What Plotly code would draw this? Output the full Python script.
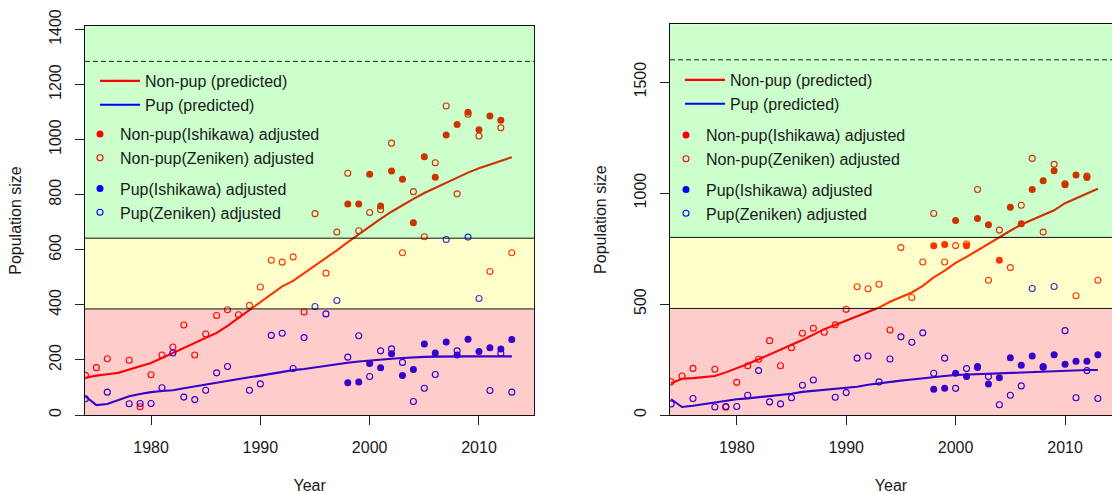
import plotly.graph_objects as go

# ---------------- data ----------------
years = list(range(1974, 2014))

# predicted trajectories (left panel)
L_nonpup_pred = [135, 143, 148, 153, 165, 176, 189, 207, 225, 243, 262, 280, 298, 324, 352, 382,
                 409, 438, 467, 487, 515, 543, 568, 598, 628, 657, 684, 712, 738, 762, 785, 806,
                 825, 845, 863, 880, 896, 910, 924, 936]
L_pup_pred = [68, 36, 40, 55, 68, 76, 83, 87, 90, 97, 104, 110, 117, 124, 131, 137, 143, 150, 158,
              163, 167, 173, 180, 186, 190, 194, 198, 201, 204, 207, 210, 211, 212, 213, 213, 213,
              213, 213, 213, 213]

# predicted trajectories (right panel)
R_nonpup_pred = [143, 163, 166, 170, 176, 192, 210, 230, 251, 272, 293, 315, 338, 362, 387, 405,
                 425, 446, 466, 484, 510, 532, 552, 582, 620, 650, 685, 712, 742, 772, 800, 830,
                 858, 880, 902, 922, 954, 975, 998, 1019]
R_pup_pred = [71, 36, 42, 50, 55, 63, 71, 75, 80, 85, 89, 96, 104, 108, 112, 116, 120, 127, 136,
              143, 148, 155, 160, 166, 172, 176, 180, 182, 184, 187, 189, 190, 192, 195, 198, 200,
              201, 202, 203, 203]

# Ishikawa adjusted counts
ish_nonpup_years = list(range(1998, 2013))
ish_pup_years = list(range(1998, 2014))
L_nonpup_ish = [766, 766, 874, 759, 886, 856, 698, 938, 863, 1017, 1055, 1099, 1036, 1086, 1070]
L_pup_ish = [117, 120, 187, 172, 222, 143, 165, 258, 225, 265, 218, 275, 231, 244, 240, 274]
R_nonpup_ish = [762, 768, 876, 762, 885, 857, 697, 936, 861, 1016, 1055, 1100, 1037, 1081, 1070]
R_pup_ish = [116, 120, 188, 173, 218, 140, 168, 258, 224, 266, 218, 271, 229, 242, 242, 271]

# Zeniken adjusted counts
zen_nonpup_years = [y for y in years if y != 1977]
zen_pup_years = [y for y in years if y not in (1975, 1977, 1988)]
L_nonpup_zen = [144, 172, 204, 199, 30, 146, 218, 247, 327, 218, 294, 361, 382, 364, 398, 465,
                562, 555, 574, 374, 731, 515, 664, 878, 669, 735, 745, 987, 589, 811, 647, 916,
                1122, 803, 1092, 1013, 521, 1043, 589]
R_nonpup_zen = [150, 176, 210, 206, 35, 147, 222, 251, 335, 222, 303, 368, 391, 373, 406, 476,
                578, 569, 589, 383, 754, 529, 689, 908, 689, 763, 770, 1016, 607, 833, 664, 945,
                1156, 824, 1129, 1041, 537, 1076, 607]
L_pup_zen = [59, 83, 41, 42, 42, 99, 225, 65, 56, 90, 153, 176, 90, 113, 289, 297, 169, 281, 394,
             367, 416, 210, 288, 140, 233, 240, 191, 49, 97, 147, 637, 233, 646, 423, 89, 224, 83]
R_pup_zen = [50, 74, 36, 38, 38, 89, 200, 59, 50, 78, 134, 158, 80, 101, 256, 266, 149, 252, 352,
             328, 370, 188, 256, 120, 209, 214, 173, 46, 89, 131, 570, 215, 579, 380, 78, 200, 74]

K_left = 1284
K_right = 1600
x_ticks = [1980, 1990, 2000, 2010]
L_y_ticks = [0, 200, 400, 600, 800, 1000, 1200, 1400]
R_y_ticks = [0, 500, 1000, 1500]

names = ["Non-pup (predicted)", "Pup (predicted)", "Non-pup(Ishikawa) adjusted",
         "Non-pup(Zeniken) adjusted", "Pup(Ishikawa) adjusted", "Pup(Zeniken) adjusted"]

# ---------------- figure ----------------
W, H = 1112, 494
FONT = "Liberation Sans, Arial, sans-serif"
RED, BLUE = "#ff0000", "#0000ff"

fig = go.Figure()


def add_panel(xa, ya, lg_lines, lg_pts, npp, pp, npi, ppi, npz, ppz):
    fig.add_trace(go.Scatter(x=years, y=npp, mode="lines", line=dict(color=RED, width=2.1),
                             name=names[0], xaxis=xa, yaxis=ya, legend=lg_lines))
    fig.add_trace(go.Scatter(x=years, y=pp, mode="lines", line=dict(color=BLUE, width=2.1),
                             name=names[1], xaxis=xa, yaxis=ya, legend=lg_lines))
    fig.add_trace(go.Scatter(x=ish_nonpup_years, y=npi, mode="markers",
                             marker=dict(color=RED, size=7, symbol="circle"),
                             name=names[2], xaxis=xa, yaxis=ya, legend=lg_pts, legendgroup="a" + lg_pts))
    fig.add_trace(go.Scatter(x=zen_nonpup_years, y=npz, mode="markers",
                             marker=dict(color=RED, size=6, symbol="circle-open", line=dict(width=1.1)),
                             name=names[3], xaxis=xa, yaxis=ya, legend=lg_pts, legendgroup="a" + lg_pts))
    fig.add_trace(go.Scatter(x=ish_pup_years, y=ppi, mode="markers",
                             marker=dict(color=BLUE, size=7, symbol="circle"),
                             name=names[4], xaxis=xa, yaxis=ya, legend=lg_pts, legendgroup="b" + lg_pts))
    fig.add_trace(go.Scatter(x=zen_pup_years, y=ppz, mode="markers",
                             marker=dict(color=BLUE, size=6, symbol="circle-open", line=dict(width=1.1)),
                             name=names[5], xaxis=xa, yaxis=ya, legend=lg_pts, legendgroup="b" + lg_pts))


add_panel("x", "y", "legend", "legend2", L_nonpup_pred, L_pup_pred, L_nonpup_ish, L_pup_ish,
          L_nonpup_zen, L_pup_zen)
add_panel("x2", "y2", "legend3", "legend4", R_nonpup_pred, R_pup_pred, R_nonpup_ish, R_pup_ish,
          R_nonpup_zen, R_pup_zen)

tickfont = dict(family=FONT, size=16, color="#1a1a1a")
titlefont = dict(family=FONT, size=16, color="#1a1a1a")


def xaxis(domain, rng, mirror, anchor):
    return dict(domain=domain, range=rng, tickvals=x_ticks, ticks="outside", ticklen=9,
                tickcolor="#222", tickwidth=1, showline=True, linecolor="#111", linewidth=1,
                mirror=mirror, showgrid=False, zeroline=False, tickfont=tickfont,
                ticklabelstandoff=9, automargin=False, anchor=anchor,
                title=dict(text="Year", font=titlefont, standoff=24))


def yaxis(domain, rng, ticks, mirror, anchor):
    return dict(domain=domain, range=rng, tickvals=ticks, ticks="outside", ticklen=9,
                tickcolor="#222", tickwidth=1, showline=True, linecolor="#111", linewidth=1,
                mirror=mirror, showgrid=False, zeroline=False, tickfont=tickfont, tickangle=-90,
                ticklabelstandoff=8, automargin=False, anchor=anchor,
                title=dict(text="Population size", font=titlefont, standoff=20))


def px_x(p):
    return p / W


def px_y(p):
    return (H - p) / H


xa1 = xaxis([px_x(85), px_x(534.3)], [1973.96, 2015.06], True, "y")
ya1 = yaxis([px_y(415), px_y(26)], [0, 1.1 * K_left], L_y_ticks, True, "x")
xa2 = xaxis([px_x(670), 1.0], [1973.9, 1973.9 + 442 / 10.943], True, "y2")
ya2 = yaxis([px_y(415), px_y(24.3)], [0, 1.1 * K_right], R_y_ticks, False, "x2")

shapes = []
for xr, yr, K in (("x", "y", K_left), ("x2", "y2", K_right)):
    xd = xr + " domain"
    shapes.append(dict(type="line", xref=xd, yref=yr, x0=0, x1=1, y0=K, y1=K, layer="below",
                       line=dict(color="#000", width=1, dash="5px,3px")))
    for lo, hi, col in ((0, 0.3 * K, "rgba(255,0,0,0.2)"), (0.3 * K, 0.5 * K, "rgba(255,255,0,0.2)"),
                        (0.5 * K, 1.1 * K, "rgba(0,255,0,0.2)")):
        shapes.append(dict(type="rect", xref=xd, yref=yr, x0=0, x1=1, y0=lo, y1=hi, layer="above",
                           fillcolor=col, line=dict(width=0)))
    for lv in (0.3 * K, 0.5 * K):
        shapes.append(dict(type="line", xref=xd, yref=yr, x0=0, x1=1, y0=lv, y1=lv, layer="above",
                           line=dict(color="#111", width=1)))

legfont = dict(family=FONT, size=16, color="#1a1a1a")
common = dict(font=legfont, bgcolor="rgba(0,0,0,0)", borderwidth=0, xanchor="left", yanchor="top",
              traceorder="grouped")

fig.update_layout(
    width=W, height=H, margin=dict(l=0, r=0, t=0, b=0, autoexpand=False),
    paper_bgcolor="white", plot_bgcolor="white",
    xaxis=xa1, yaxis=ya1, xaxis2=xa2, yaxis2=ya2, shapes=shapes,
    legend=dict(x=px_x(95), y=px_y(64), itemwidth=40, **common),
    legend2=dict(x=px_x(80), y=px_y(117), tracegroupgap=7, **common),
    legend3=dict(x=px_x(680), y=px_y(63), itemwidth=40, **common),
    legend4=dict(x=px_x(666), y=px_y(118), tracegroupgap=7, **common),
)

fig.write_html("out.html", config={"displayModeBar": False},
               post_script="document.body.style.margin='0';document.body.style.overflow='hidden';")
